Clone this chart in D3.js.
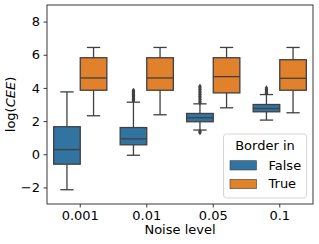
<!DOCTYPE html>
<html>
<head>
<meta charset="utf-8">
<script src="https://cdn.jsdelivr.net/npm/d3@7"></script>
<style>
  body { margin: 0; background: #fff; }
  text { font-family: "DejaVu Sans", sans-serif; }
</style>
</head>
<body>
<div class="chart"></div>
<script>
// data
var categories = ["0.001", "0.01", "0.05", "0.1"];
var hues = ["False", "True"];
var yTicks = [-2, 0, 2, 4, 6, 8];

// [lower whisker, q1, median, q3, upper whisker]
var falseStats = [
  [-2.14, -0.6, 0.28, 1.66, 3.76],
  [-0.06, 0.57, 0.93, 1.61, 3.14],
  [1.46, 1.96, 2.2, 2.46, 3.04],
  [2.06, 2.56, 2.76, 3.0, 3.6]
];
var trueStats = [
  [2.32, 3.86, 4.6, 5.82, 6.44],
  [2.38, 3.86, 4.6, 5.82, 6.44],
  [2.8, 3.7, 4.68, 5.82, 6.44],
  [2.5, 3.86, 4.58, 5.7, 6.44]
];
var falseOutliers = [
  [],
  [3.22, 3.3, 3.38, 3.46, 3.54, 3.62, 3.7, 3.78, 3.86],
  [3.1, 3.2, 3.3, 3.4, 3.5, 3.6, 3.7, 3.8, 3.9, 4.0, 4.1, 1.38, 1.3],
  [3.66, 3.74, 3.82, 3.9, 4.0]
];
var trueOutliers = [[], [], [], []];

var svgWidth = 319;
var svgHeight = 244;
var margin = { top: 5, right: 6, bottom: 40, left: 47 };
var width = svgWidth - margin.left - margin.right;
var height = svgHeight - margin.top - margin.bottom;

var colors = { "False": "#3274a1", "True": "#e1812c" };
var lineColor = "#404040";

var svg = d3.select(".chart")
  .append("svg")
  .attr("width", svgWidth)
  .attr("height", svgHeight);

var chartGroup = svg.append("g")
  .attr("transform", `translate(${margin.left}, ${margin.top})`);

var xScale = d3.scaleBand()
  .domain(categories)
  .range([0, width]);

var hueScale = d3.scaleBand()
  .domain(hues)
  .range([xScale.bandwidth() * 0.1, xScale.bandwidth() * 0.9]);

var yScale = d3.scaleLinear()
  .domain([-3, 9])
  .range([height, 0]);

// boxes
var series = [
  { hue: "False", stats: falseStats, outliers: falseOutliers },
  { hue: "True", stats: trueStats, outliers: trueOutliers }
];

series.forEach(function(s) {
  categories.forEach(function(cat, i) {
    var st = s.stats[i];
    var x0 = xScale(cat) + hueScale(s.hue);
    var bw = hueScale.bandwidth();
    var cx = x0 + bw / 2;
    var g = chartGroup.append("g");

    // whiskers
    g.append("line")
      .attr("x1", cx).attr("x2", cx)
      .attr("y1", yScale(st[0])).attr("y2", yScale(st[1]))
      .attr("stroke", lineColor).attr("stroke-width", 1.3);
    g.append("line")
      .attr("x1", cx).attr("x2", cx)
      .attr("y1", yScale(st[3])).attr("y2", yScale(st[4]))
      .attr("stroke", lineColor).attr("stroke-width", 1.3);
    // caps
    [st[0], st[4]].forEach(function(v) {
      g.append("line")
        .attr("x1", cx - bw / 4).attr("x2", cx + bw / 4)
        .attr("y1", yScale(v)).attr("y2", yScale(v))
        .attr("stroke", lineColor).attr("stroke-width", 1.3);
    });
    // box
    g.append("rect")
      .attr("x", x0)
      .attr("y", yScale(st[3]))
      .attr("width", bw)
      .attr("height", yScale(st[1]) - yScale(st[3]))
      .attr("fill", colors[s.hue])
      .attr("stroke", lineColor)
      .attr("stroke-width", 1.3);
    // median
    g.append("line")
      .attr("x1", x0).attr("x2", x0 + bw)
      .attr("y1", yScale(st[2])).attr("y2", yScale(st[2]))
      .attr("stroke", lineColor).attr("stroke-width", 1.3);
    // outliers
    g.selectAll("path.out")
      .data(s.outliers[i])
      .enter()
      .append("path")
      .attr("class", "out")
      .attr("d", d => `M${cx},${yScale(d) - 2.6}L${cx + 1.8},${yScale(d)}L${cx},${yScale(d) + 2.6}L${cx - 1.8},${yScale(d)}Z`)
      .attr("fill", lineColor);
  });
});

// axes
var bottomAxis = d3.axisBottom(xScale).tickSize(3.5).tickPadding(3.5);
var leftAxis = d3.axisLeft(yScale).tickValues(yTicks).tickSize(3.5).tickPadding(3.5)
  .tickFormat(d => d < 0 ? "\u2212" + Math.abs(d) : d);

var xAxisG = chartGroup.append("g")
  .attr("transform", `translate(0, ${height})`)
  .call(bottomAxis);
var yAxisG = chartGroup.append("g")
  .call(leftAxis);

[xAxisG, yAxisG].forEach(function(a) {
  a.select(".domain").remove();
  a.selectAll("line").attr("stroke", "#222").attr("stroke-width", 0.9);
  a.selectAll("text").attr("font-size", 13).attr("fill", "#000")
    .attr("font-family", "DejaVu Sans");
});

// frame
chartGroup.append("rect")
  .attr("x", 0).attr("y", 0)
  .attr("width", width).attr("height", height)
  .attr("fill", "none")
  .attr("stroke", "#222")
  .attr("stroke-width", 0.9);

// axis labels
chartGroup.append("text")
  .attr("x", width / 2)
  .attr("y", height + 30)
  .attr("text-anchor", "middle")
  .attr("font-size", 13)
  .text("Noise level");

var yLabel = svg.append("text")
  .attr("transform", `translate(15, ${margin.top + height / 2}) rotate(-90)`)
  .attr("text-anchor", "middle")
  .attr("font-size", 13);
yLabel.append("tspan").text("log(");
yLabel.append("tspan").attr("font-style", "italic").text("CEE");
yLabel.append("tspan").text(")");

// legend
var legend = svg.append("g").attr("transform", "translate(223.5, 134)");
legend.append("rect")
  .attr("width", 83).attr("height", 64)
  .attr("rx", 3)
  .attr("fill", "#fff").attr("fill-opacity", 0.8)
  .attr("stroke", "#d0d0d0").attr("stroke-width", 0.9);
legend.append("text")
  .attr("x", 41.5).attr("y", 15.5)
  .attr("text-anchor", "middle")
  .attr("font-size", 13)
  .text("Border in");
hues.forEach(function(h, i) {
  legend.append("rect")
    .attr("x", 6.5).attr("y", 26.7 + i * 18.7)
    .attr("width", 26.5).attr("height", 9.3)
    .attr("fill", colors[h])
    .attr("stroke", lineColor).attr("stroke-width", 0.6);
  legend.append("text")
    .attr("x", 45).attr("y", 35.5 + i * 18.8)
    .attr("font-size", 13)
    .text(h);
});
</script>
</body>
</html>
